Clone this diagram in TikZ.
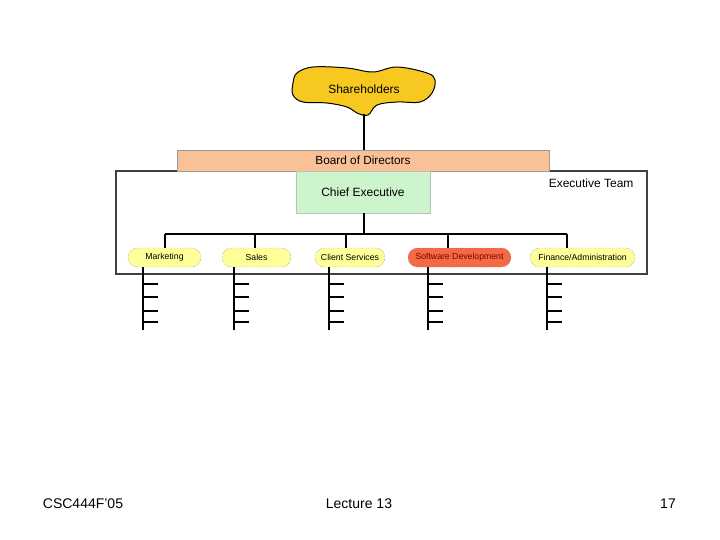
\documentclass[tikz,border=0pt]{standalone}
\usepackage{fontspec}
\setmainfont{Liberation Sans}
\usetikzlibrary{shapes.misc}
\definecolor{gold}{HTML}{F7C820}
\definecolor{board}{HTML}{FAC196}
\definecolor{chief}{HTML}{CDF5CD}
\definecolor{pill}{HTML}{FFFF99}
\definecolor{swdev}{HTML}{F36A45}
\begin{document}
\begin{tikzpicture}[x=1pt,y=-1pt,
  pillbox/.style={rounded rectangle, draw=black!55, densely dotted, fill=pill, minimum height=19pt, inner sep=1pt, font=\fontsize{8.7}{10}\selectfont},
  wire/.style={line width=1.2pt, black},
  tick/.style={line width=1.3pt, black}]
\useasboundingbox (0,0) rectangle (720,540);
% blob
\draw[fill=gold, line width=1pt] plot[smooth cycle, tension=0.6] coordinates {
 (297,73) (313,67) (347,68) (373,72) (397,67) (427,73) (435,80) (432,93)
 (420,102) (397,102) (377,105) (368,115) (357,113) (347,107) (327,103) (303,102) (293,95) (293,83)};
\node (sh) at (364,89) {\fontsize{12}{14}\selectfont Shareholders};
\coordinate (shb) at (364,114);
% frame
\node[draw=black!75, line width=1.3pt, minimum width=531pt, minimum height=103pt, inner sep=0pt] (team) at (381.5,222.5) {};
\node[anchor=north east, font=\fontsize{12}{14}\selectfont] (tt) at (637,175) {Executive Team};
% board
\node[draw=black!40, fill=board, minimum width=372pt, minimum height=21pt, inner sep=0pt, font=\fontsize{11.8}{13}\selectfont] (board) at (363,160.5) {Board of Directors};
\draw[wire] (shb) -- (shb |- board.north);
% chief
\node[draw=black!25, fill=chief, minimum width=134pt, minimum height=42pt, inner sep=0pt, font=\fontsize{12}{14}\selectfont] (chief) at (363,192) {Chief Executive};
% pills
\node[pillbox, minimum width=75pt] (mk) at (164.5,257.5) {Marketing};
\node[pillbox, minimum width=71pt] (sa) at (256.5,257.5) {Sales};
\node[pillbox, minimum width=72pt] (cs) at (350,257.5) {Client Services};
\node[pillbox, minimum width=105pt, fill=swdev, text=red!50!black] (sd) at (459.5,257.5) {Software Development};
\node[pillbox, minimum width=107pt] (fa) at (582.5,257.5) {Finance/Administration};
% bus
\coordinate (bus) at (364,234);
\draw[wire] (bus |- chief.south) -- (bus);
\draw[wire] (165,234) -- (567,234);
\draw[wire] (165,234) -- (165,248);
\draw[wire] (255,234) -- (255,248);
\draw[wire] (346,234) -- (346,248);
\draw[wire] (448,234) -- (448,248);
\draw[wire] (567,234) -- (567,248);
% drops with ticks
\foreach \x in {143,234,329,428,547}{
  \draw[tick] (\x,267) -- (\x,330);
  \foreach \y in {284,297,311,322}{
    \draw[tick] (\x,\y) -- (\x+15,\y);
  }
}
% footer
\node[font=\fontsize{14}{16}\selectfont] (f1) at (83,504) {CSC444F'05};
\node[font=\fontsize{14}{16}\selectfont] (f2) at (359,504) {Lecture 13};
\node[font=\fontsize{14}{16}\selectfont] (f3) at (668,504) {17};
\end{tikzpicture}
\end{document}
